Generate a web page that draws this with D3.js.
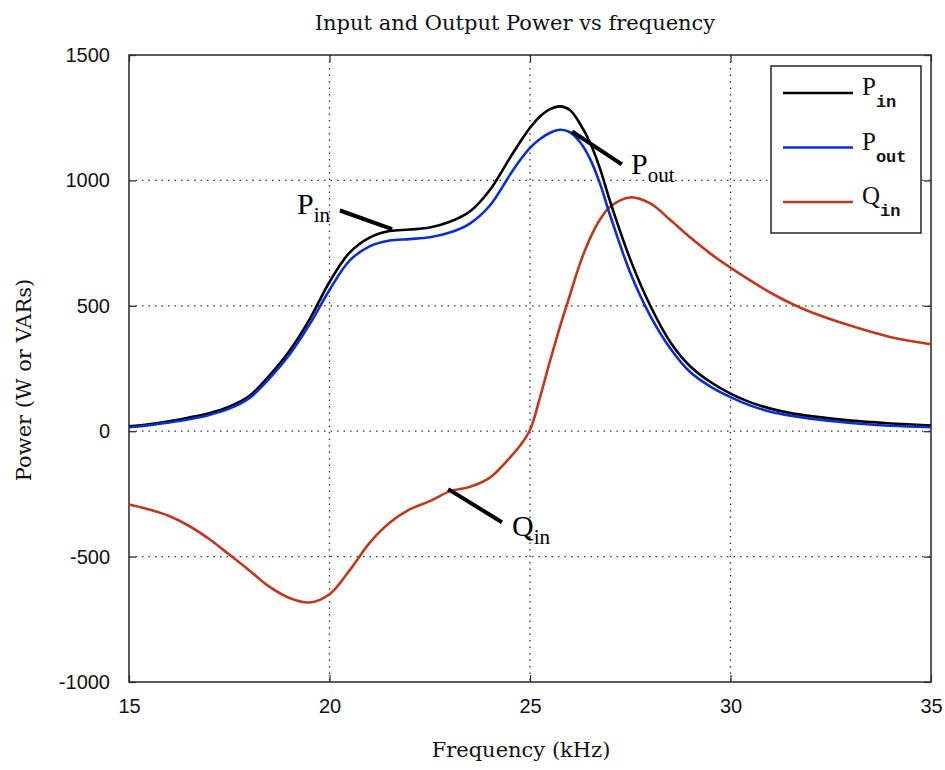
<!DOCTYPE html>
<html>
<head>
    <script src="https://cdn.jsdelivr.net/npm/d3@7/dist/d3.min.js" charset="UTF-8"></script>
    <style>
        body { margin: 0; background: #fff; }
    </style>
</head>

<body>

<svg width="945" height="770"></svg>
<script type="text/javascript">
// frequency samples (kHz) and the three curves
var freq = [15, 15.5, 16, 16.5, 17, 17.5, 18, 18.5, 19, 19.5, 20, 20.5, 21, 21.5, 22, 22.5,
    23, 23.5, 24, 24.5, 24.75, 25, 25.25, 25.5, 25.75, 26, 26.25, 26.5, 26.75, 27, 27.5, 28, 28.5,
    29, 29.5, 30, 30.5, 31, 31.5, 32, 33, 34, 35];

var pin = [20, 28, 40, 55, 72, 98, 140, 222, 320, 445, 595, 712, 772, 798, 804, 812,
    835, 876, 962, 1090, 1152, 1210, 1255, 1284, 1295, 1280, 1225, 1150, 1045, 915, 685, 500, 355,
    258, 196, 150, 115, 90, 72, 60, 42, 31, 23];

var pout = [16, 24, 35, 48, 65, 90, 132, 210, 305, 425, 563, 680, 737, 760, 766, 773,
    792, 828, 900, 1022, 1080, 1130, 1165, 1190, 1202, 1192, 1152, 1085, 985, 860, 632, 460, 330,
    235, 178, 136, 102, 78, 62, 50, 33, 22, 16];

var qin = [-292, -312, -338, -378, -430, -492, -555, -620, -665, -683, -650, -555, -445, -365, -312, -279,
    -240, -222, -185, -105, -58, 5, 135, 280, 418, 545, 670, 770, 845, 895, 932, 908, 842,
    772, 708, 652, 600, 552, 510, 475, 420, 375, 347];

var xTicks = [15, 20, 25, 30, 35];
var yTicks = [-1000, -500, 0, 500, 1000, 1500];

var series = [
    { name: 'P', sub: 'in', values: pin, color: '#000000' },
    { name: 'P', sub: 'out', values: pout, color: '#0a2ecf' },
    { name: 'Q', sub: 'in', values: qin, color: '#c0391f' }
];

// labels pointing at the curves: [f0, v0, f1, v1] leader, text anchor
var notes = [
    { name: 'P', sub: 'in', line: [20.26, 880, 21.56, 806], at: [19.19, 868] },
    { name: 'P', sub: 'out', line: [26.05, 1195, 27.29, 1064], at: [27.52, 1024] },
    { name: 'Q', sub: 'in', line: [22.96, -231, 24.30, -363], at: [24.55, -418] }
];

var svg = d3.select('svg');
// plot box edges ("top" is taken by window.top, so prefixed names)
var pLeft = 129, pRight = 931, pTop = 55, pBottom = 682;

var x = d3.scaleLinear().domain([15, 35]).range([pLeft, pRight]);
var y = d3.scaleLinear().domain([-1000, 1500]).range([pBottom, pTop]);

// dotted grid
svg.append('g').selectAll('line')
    .data(xTicks.slice(1, -1))
    .enter().append('line')
    .attr('x1', function(d) { return x(d); })
    .attr('x2', function(d) { return x(d); })
    .attr('y1', pTop).attr('y2', pBottom)
    .attr('stroke', '#333').attr('stroke-width', 1.3)
    .attr('stroke-dasharray', '1.5,5');

svg.append('g').selectAll('line')
    .data(yTicks.slice(1, -1))
    .enter().append('line')
    .attr('y1', function(d) { return y(d); })
    .attr('y2', function(d) { return y(d); })
    .attr('x1', pLeft).attr('x2', pRight)
    .attr('stroke', '#333').attr('stroke-width', 1.3)
    .attr('stroke-dasharray', '1.5,5');

// axes with inward ticks on all sides
var tickFont = '"Liberation Sans", Arial, sans-serif';
function styleAxis(g) {
    g.select('.domain').remove();
    g.selectAll('.tick line').attr('stroke', '#333').attr('stroke-width', 1.3);
    g.selectAll('.tick text').attr('font-family', tickFont).attr('font-size', 20).attr('fill', '#111');
}

svg.append('g').attr('transform', 'translate(0,' + pBottom + ')')
    .call(d3.axisBottom(x).tickValues(xTicks).tickSizeInner(-7).tickSizeOuter(0).tickPadding(17))
    .call(styleAxis);
svg.append('g').attr('transform', 'translate(0,' + pTop + ')')
    .call(d3.axisTop(x).tickValues(xTicks).tickSizeInner(-7).tickSizeOuter(0).tickFormat(''))
    .call(styleAxis);
svg.append('g').attr('transform', 'translate(' + pLeft + ',0)')
    .call(d3.axisLeft(y).tickValues(yTicks).tickSizeInner(-7).tickSizeOuter(0).tickPadding(19)
        .tickFormat(function(d) { return String(d); }))
    .call(styleAxis);
svg.append('g').attr('transform', 'translate(' + pRight + ',0)')
    .call(d3.axisRight(y).tickValues(yTicks).tickSizeInner(-7).tickSizeOuter(0).tickFormat(''))
    .call(styleAxis);

svg.append('rect')
    .attr('x', pLeft).attr('y', pTop)
    .attr('width', pRight - pLeft).attr('height', pBottom - pTop)
    .attr('fill', 'none').attr('stroke', '#333').attr('stroke-width', 1.6);

// curves
var line = d3.line()
    .x(function(d, i) { return x(freq[i]); })
    .y(function(d) { return y(d); })
    .curve(d3.curveCatmullRom.alpha(0.5));

// red first so the black/blue sit on top like the original
[series[2], series[0], series[1]].forEach(function(s) {
    svg.append('path')
        .attr('d', line(s.values))
        .attr('fill', 'none')
        .attr('stroke', s.color)
        .attr('stroke-width', 2.6)
        .attr('stroke-linejoin', 'round');
});

// annotations
var serif = '"Liberation Serif", "Times New Roman", serif';
notes.forEach(function(n) {
    svg.append('line')
        .attr('x1', x(n.line[0])).attr('y1', y(n.line[1]))
        .attr('x2', x(n.line[2])).attr('y2', y(n.line[3]))
        .attr('stroke', '#000').attr('stroke-width', 4);
    var t = svg.append('text')
        .attr('x', x(n.at[0])).attr('y', y(n.at[1]))
        .attr('font-family', serif).attr('font-size', 30).attr('fill', '#000');
    t.append('tspan').text(n.name);
    t.append('tspan').attr('dy', 8).attr('font-size', 21).text(n.sub);
});

// legend
var lg = svg.append('g');
lg.append('rect')
    .attr('x', 771).attr('y', 66).attr('width', 150).attr('height', 167)
    .attr('fill', '#fff').attr('stroke', '#333').attr('stroke-width', 1.6);

series.forEach(function(s, i) {
    var ly = 93 + i * 54.5;
    lg.append('line')
        .attr('x1', 783).attr('x2', 853)
        .attr('y1', ly).attr('y2', ly)
        .attr('stroke', s.color).attr('stroke-width', 2.6);
    var t = lg.append('text')
        .attr('x', 862).attr('y', ly + 2)
        .attr('font-family', serif).attr('font-size', 25).attr('fill', '#111');
    t.append('tspan').text(s.name);
    t.append('tspan').attr('dy', 12)
        .attr('font-family', '"Liberation Mono", "Courier New", monospace')
        .attr('font-size', 17).attr('font-weight', 'bold').text(s.sub);
});

// titles
var labelFont = '"DejaVu Serif", serif';
svg.append('text')
    .attr('x', 515).attr('y', 30)
    .attr('text-anchor', 'middle')
    .attr('font-family', labelFont).attr('font-size', 21).attr('fill', '#111')
    .text('Input and Output Power vs frequency');

svg.append('text')
    .attr('x', 521).attr('y', 757)
    .attr('text-anchor', 'middle')
    .attr('font-family', labelFont).attr('font-size', 21).attr('fill', '#111')
    .text('Frequency (kHz)');

svg.append('text')
    .attr('transform', 'translate(31,380) rotate(-90)')
    .attr('text-anchor', 'middle')
    .attr('font-family', labelFont).attr('font-size', 21).attr('fill', '#111')
    .text('Power (W or VARs)');
</script>

</body>
</html>
